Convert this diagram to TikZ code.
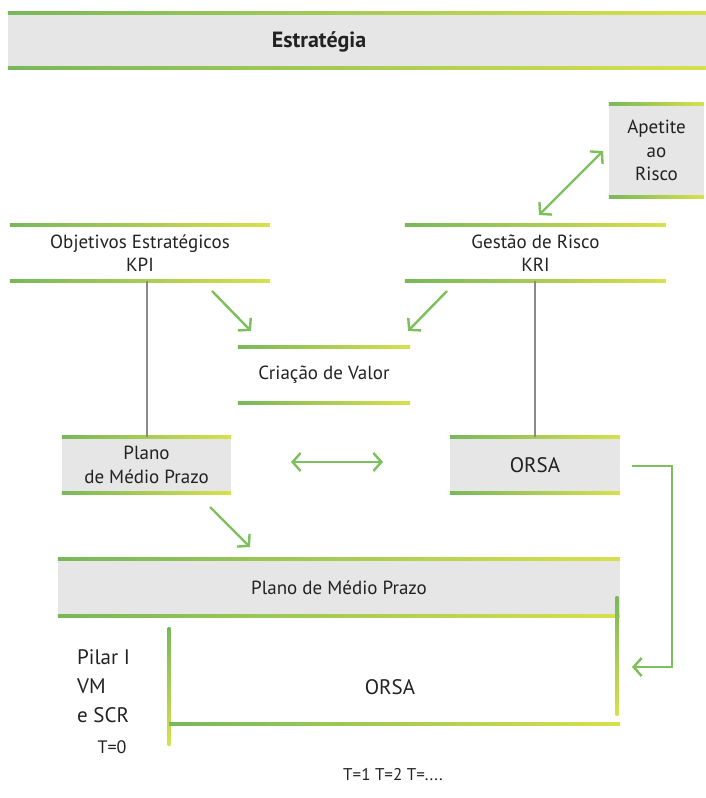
\documentclass[tikz,border=0pt]{standalone}
\usepackage{fontspec}
\setmainfont{PT Sans}
\usetikzlibrary{arrows.meta}

\definecolor{lgreen}{HTML}{78B85A}
\definecolor{lmid}{HTML}{F6F0F6}
\definecolor{lyellow}{HTML}{D8E04C}
\definecolor{agreen}{HTML}{7DBF5C}
\definecolor{boxgray}{HTML}{E6E6E6}
\definecolor{linegray}{HTML}{8A8A8A}
\definecolor{txt}{HTML}{222222}

\tikzset{
  box/.style={inner sep=0pt, align=center, text=txt,
    font=\fontsize{19}{23.5}\selectfont},
  graybox/.style={box, fill=boxgray},
  garrow/.style={draw=agreen, line width=2.4pt,
    -{Straight Barb[length=8pt,width=18pt]}},
  gdouble/.style={garrow, {Straight Barb[length=8pt,width=18pt]}-{Straight Barb[length=8pt,width=18pt]}},
  gline/.style={draw=linegray, line width=2pt}
}

% gradient bar along the top / bottom edge of a box
\newcommand\gbar[2]{\shade[left color=lgreen, middle color=lmid, right color=lyellow]
  ([yshift=1.5pt]#1) rectangle ([yshift=-1.5pt]#2);}
\newcommand\vgbar[2]{\shade[top color=lgreen, middle color=lmid, bottom color=lyellow]
  ([xshift=-1.3pt]#1) rectangle ([xshift=1.3pt]#2);}
\newcommand\edges[1]{\gbar{#1.north west}{#1.north east}\gbar{#1.south west}{#1.south east}}

\begin{document}
\begin{tikzpicture}[x=1pt,y=-1pt]
\useasboundingbox (0,0) rectangle (706,798);

% boxes
\node[graybox, minimum width=698pt, minimum height=55pt] (strat) at (357,40.5) {};
\node[box, font=\fontsize{22}{24}\selectfont\bfseries] (strattxt) at (319,41.5) {Estratégia};
\node[graybox, minimum width=95pt, minimum height=93pt] (apetite) at (656.5,150.5) {Apetite\\ao\\Risco};
\node[box, minimum width=260pt, minimum height=56pt] (obj) at (140,253) {Objetivos Estratégicos\\KPI};
\node[box, minimum width=261pt, minimum height=56pt] (gestao) at (535.5,253) {Gestão de Risco\\KRI};
\node[box, minimum width=172pt, minimum height=56pt] (criacao) at (324,375) {Criação de Valor};
\node[graybox, minimum width=169pt, minimum height=56pt] (plano) at (146.5,465) {Plano\\de Médio Prazo};
\node[graybox, minimum width=170pt, minimum height=56pt, font=\fontsize{21}{24}\selectfont] (orsa) at (535,465) {ORSA};
\node[graybox, minimum width=562pt, minimum height=57pt] (pmp) at (339,587.5) {Plano de Médio Prazo};

\foreach \b in {strat,apetite,obj,gestao,criacao,plano,orsa,pmp}
  \edges{\b};

% ORSA horizon frame
\node[box, font=\fontsize{21}{24}\selectfont] (orsab) at (390,687) {ORSA};
\coordinate (fl1) at (169,627);
\coordinate (fl2) at (169,745);
\coordinate (fr1) at (617,596);
\coordinate (fr2) at (617,715);
\coordinate (fb1) at (169,724);
\coordinate (fb2) at (620,724);
\vgbar{fl1}{fl2}
\vgbar{fr1}{fr2}
\gbar{fb1}{fb2}

\node[box, align=left, anchor=west, font=\fontsize{21}{29}\selectfont] (pilar) at (77,686) {Pilar I\\VM\\e SCR};
\node[box, font=\fontsize{18}{20}\selectfont] (t0) at (112,747) {T=0};
\node[box, font=\fontsize{17}{20}\selectfont] (tn) at (393,775) {T=1 T=2 T=....};

% vertical links
\draw[gline] (plano.north) -- (plano.north |- obj.south);
\draw[gline] (orsa.north) -- (orsa.north |- gestao.south);

% arrows
\coordinate (ga) at (539,215);
\coordinate (ap) at (603,151);
\coordinate (ok) at (212,291);
\coordinate (cv1) at (251,331);
\coordinate (gk) at (447,291);
\coordinate (cv2) at (408,331);
\coordinate (pl) at (291,462);
\coordinate (os) at (383,462);
\coordinate (pd) at (210,507);
\coordinate (pm) at (250,547);
\coordinate (oe) at (632,466);
\coordinate (fr) at (632,667);

\draw[gdouble] (ga) -- (ap);
\draw[garrow] (ok) -- (cv1);
\draw[garrow] (gk) -- (cv2);
\draw[gdouble] (pl) -- (os);
\draw[garrow] (pd) -- (pm);
\draw[garrow] (oe) -| (672,667) -- (fr);
\end{tikzpicture}
\end{document}
